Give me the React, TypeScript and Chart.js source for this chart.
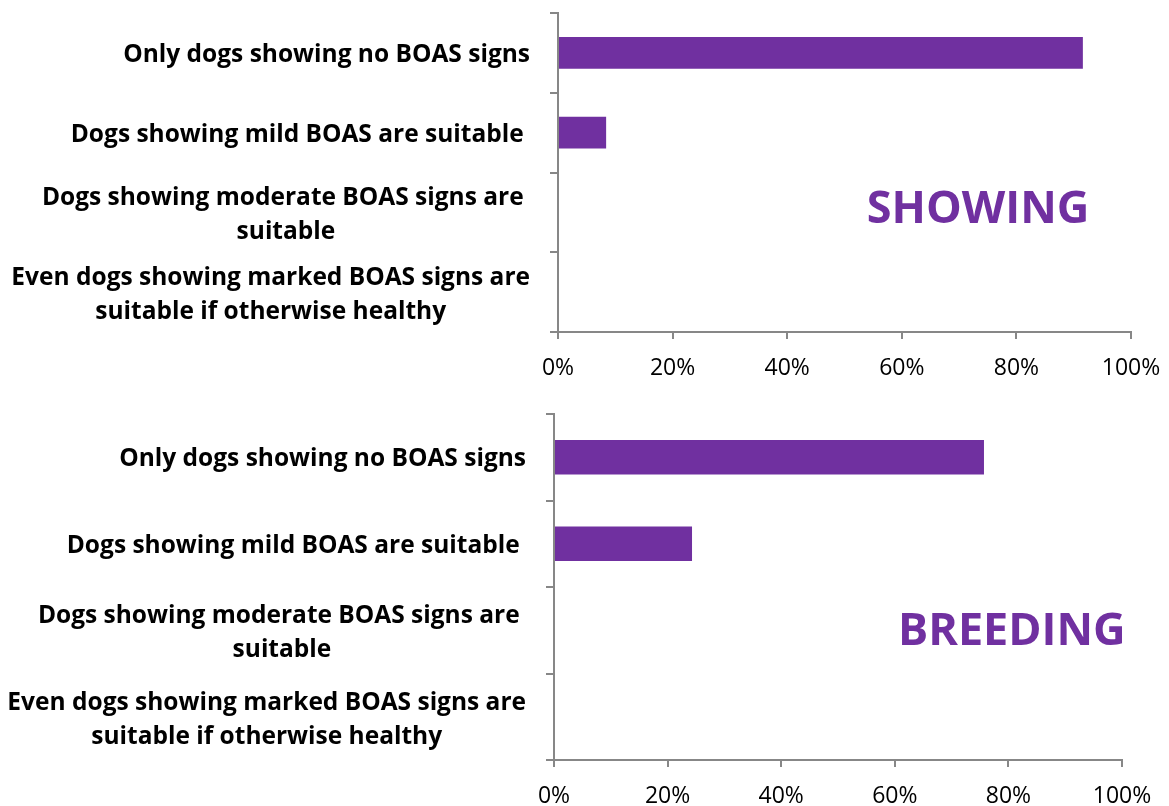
import React, { useEffect, useRef } from "react";
import { Chart, registerables } from "chart.js";

Chart.register(...registerables);

// ---- Data ----
const categories: string[][] = [
  ["Only dogs showing no BOAS signs"],
  ["Dogs showing mild BOAS are suitable "],
  ["Dogs showing moderate BOAS signs are ", "suitable"],
  ["Even dogs showing marked BOAS signs are", "suitable if otherwise healthy"],
];
const showingValues = [91.6, 8.4, 0, 0];
const breedingValues = [75.7, 24.3, 0, 0];
const xTickMin = 0;
const xTickMax = 100;
const xTickStep = 20;
const panelTitles = ["SHOWING", "BREEDING"];

// ---- Styles ----
const PURPLE = "#7030A0";
const AXIS_GREY = "#878787";
const FONT = "'Open Sans', sans-serif";
const PAGE_W = 1169;

const wrappedLabelPlugin = {
  id: "wrappedLabels",
  afterDraw(chart: any) {
    const { ctx, chartArea } = chart;
    const ys = chart.scales.y;
    const opts = chart.options.plugins.wrappedLabels || {};
    ctx.save();
    ctx.font = `bold ${opts.size || 25}px ${FONT}`;
    ctx.fillStyle = "#000";
    ctx.textAlign = "center";
    ctx.textBaseline = "alphabetic";
    const right = chartArea.left - (opts.gap || 28);
    const lh = opts.lineHeight || 34;
    (chart.data.labels as string[][]).forEach((lines, i) => {
      const w = Math.max(...lines.map((l) => ctx.measureText(l).width));
      const cx = right - w / 2;
      const cy = ys.getPixelForValue(i);
      const b0 = cy + 9 - (lines.length - 1) * 16;
      lines.forEach((l, j) => ctx.fillText(l, cx, b0 + j * lh));
    });
    ctx.restore();
  },
};

const panelTitlePlugin = {
  id: "panelTitle",
  afterDraw(chart: any) {
    const o = chart.options.plugins.panelTitle;
    if (!o || !o.text) return;
    const { ctx } = chart;
    const xs = chart.scales.x;
    const ys = chart.scales.y;
    ctx.save();
    ctx.font = `bold ${o.size}px ${FONT}`;
    ctx.fillStyle = PURPLE;
    ctx.textAlign = "center";
    ctx.textBaseline = "alphabetic";
    ctx.fillText(o.text, xs.getPixelForValue(o.xValue), ys.getPixelForValue(o.yIndex) + o.dy);
    ctx.restore();
  },
};

type PanelProps = {
  values: number[];
  title: string;
  top: number;
  height: number;
  axisLeft: number;
  axisTop: number;
  axisRight: number;
  axisBottom: number;
  tickPad: number;
  titleX: number;
  titleDy: number;
};

function Panel(p: PanelProps) {
  const ref = useRef<HTMLCanvasElement | null>(null);
  useEffect(() => {
    if (!ref.current) return;
    const chart = new Chart(ref.current, {
      type: "bar",
      data: {
        labels: categories as any,
        datasets: [
          {
            data: p.values,
            backgroundColor: PURPLE,
            borderWidth: 0,
            barPercentage: 0.4,
            categoryPercentage: 1,
          },
        ],
      },
      options: {
        indexAxis: "y",
        responsive: false,
        animation: false,
        events: [],
        layout: {
          padding: { top: p.axisTop, right: PAGE_W - p.axisRight, left: 0, bottom: 0 },
        },
        plugins: {
          legend: { display: false },
          tooltip: { enabled: false },
          title: { display: false },
          wrappedLabels: { size: 24.5, gap: 28, lineHeight: 34 },
          panelTitle: { text: p.title, size: 45, xValue: p.titleX, yIndex: 2, dy: p.titleDy },
        } as any,
        scales: {
          y: {
            type: "category",
            grid: {
              offset: true,
              drawOnChartArea: false,
              drawTicks: true,
              tickLength: 8,
              color: AXIS_GREY,
              lineWidth: 2,
            },
            border: { display: true, color: AXIS_GREY, width: 2 },
            ticks: { display: false },
            afterFit: (s: any) => {
              s.width = p.axisLeft;
            },
          },
          x: {
            type: "linear",
            min: xTickMin,
            max: xTickMax,
            ticks: {
              stepSize: xTickStep,
              callback: (v: any) => `${v}%`,
              font: { family: FONT, size: 23 },
              color: "#000",
              padding: p.tickPad,
              maxRotation: 0,
            },
            grid: {
              drawOnChartArea: false,
              drawTicks: true,
              tickLength: 7,
              color: AXIS_GREY,
              lineWidth: 2,
            },
            border: { display: true, color: AXIS_GREY, width: 2 },
            afterFit: (s: any) => {
              s.height = p.height - p.axisBottom;
              s.paddingLeft = 0;
              s.paddingRight = 0;
            },
          },
        },
      },
      plugins: [wrappedLabelPlugin, panelTitlePlugin],
    });
    return () => chart.destroy();
  }, []);
  return (
    <canvas
      ref={ref}
      width={PAGE_W}
      height={p.height}
      style={{ position: "absolute", left: 0, top: p.top, width: PAGE_W, height: p.height }}
    />
  );
}

export default function App() {
  return (
    <div
      style={{
        position: "absolute",
        left: 0,
        top: 0,
        width: PAGE_W,
        height: 806,
        background: "#fff",
        overflow: "hidden",
      }}
    >
      <Panel
        values={showingValues}
        title={panelTitles[0]}
        top={0}
        height={395}
        axisLeft={558}
        axisTop={13}
        axisRight={1131}
        axisBottom={332}
        tickPad={16}
        titleX={73.3}
        titleDy={11}
      />
      <Panel
        values={breedingValues}
        title={panelTitles[1]}
        top={395}
        height={411}
        axisLeft={554}
        axisTop={19}
        axisRight={1122}
        axisBottom={365}
        tickPad={16}
        titleX={80.6}
        titleDy={15}
      />
    </div>
  );
}
